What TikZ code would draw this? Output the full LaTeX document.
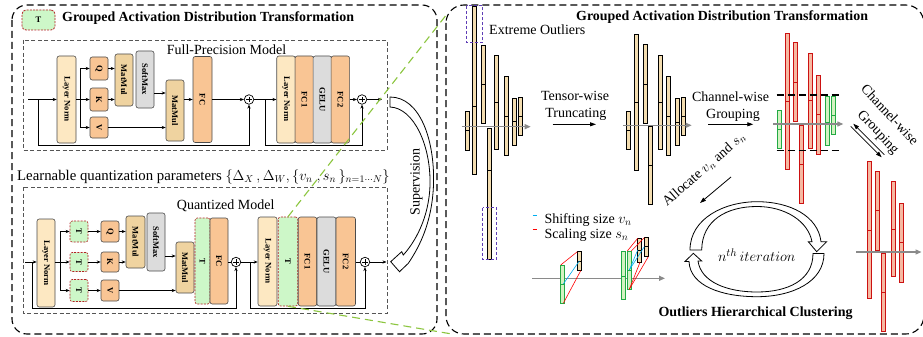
\documentclass[tikz,border=0pt]{standalone}
\usepackage{fontspec}
\setmainfont{Liberation Serif}
\usetikzlibrary{arrows.meta,calc}

\definecolor{lncol}{HTML}{FDE8C2}
\definecolor{fccol}{HTML}{F9C594}
\definecolor{mmcol}{HTML}{EFD3A0}
\definecolor{smcol}{HTML}{DCDCDC}
\definecolor{tgreen}{HTML}{CDF7C8}
\definecolor{tred}{HTML}{B22222}
\definecolor{bartan}{HTML}{F3DDB0}
\definecolor{barred}{HTML}{F6B9A2}
\definecolor{edgered}{HTML}{CC1111}
\definecolor{bargreen}{HTML}{D4F2C2}
\definecolor{edgegreen}{HTML}{22AA44}
\definecolor{zoomgreen}{HTML}{8CC63F}
\definecolor{outlierpurple}{HTML}{5E3DB5}
\definecolor{shiftcyan}{HTML}{00AEEF}
\definecolor{axisgray}{HTML}{8A8A8A}
\definecolor{framegray}{HTML}{555555}

\newcommand{\vtxt}[1]{\rotatebox{-90}{#1}}
\newcommand{\lblfont}{\fontsize{14}{17}\selectfont}
\newcommand{\ttlfont}{\fontsize{13.9}{16}\selectfont\bfseries}
% one activation channel: style, x-left, x-right, y-top, y-bottom, y of the split mark
\newcommand{\databar}[6]{%
  \draw[#1] (#2,#4) rectangle (#3,#5);
  \draw[#1,fill=none] (#2,#6) -- (#3,#6);}

\tikzset{
  blk/.style={draw=black!70, line width=0.6pt, rounded corners=2.2pt, inner sep=0pt,
    font=\fontsize{8.5}{10}\selectfont\bfseries},
  lnb/.style={blk, fill=lncol},
  fcb/.style={blk, fill=fccol},
  mmb/.style={blk, fill=mmcol},
  smb/.style={blk, fill=smcol},
  tb/.style={blk, fill=tgreen, draw=tred, dash pattern=on 2pt off 1.2pt},
  sz/.style 2 args={minimum width=#1pt, minimum height=#2pt},
  plusnode/.style={circle, draw, line width=0.7pt, minimum size=9.5pt, inner sep=0pt, fill=white,
    path picture={\draw[line width=0.6pt]
      ($(path picture bounding box.center)+(-2.6,0)$) -- ($(path picture bounding box.center)+(2.6,0)$)
      ($(path picture bounding box.center)+(0,-2.6)$) -- ($(path picture bounding box.center)+(0,2.6)$);}},
  flow/.style={line width=0.8pt, -{Stealth[length=4pt,width=3.2pt]}},
  wire/.style={line width=0.8pt},
  panel/.style={line width=1.1pt, dash pattern=on 7pt off 4pt},
  modelbox/.style={draw=framegray, line width=0.8pt, dash pattern=on 4pt off 2.5pt},
  zoomline/.style={draw=zoomgreen, line width=1.1pt, dash pattern=on 8pt off 5pt},
  tanbar/.style={fill=bartan, draw=black, line width=0.7pt},
  redbar/.style={fill=barred, draw=edgered, line width=0.7pt},
  grnbar/.style={fill=bargreen, draw=edgegreen, line width=0.7pt},
  axisarr/.style={draw=axisgray, line width=1.2pt, -{Triangle[length=6pt,width=5pt]}},
  procarr/.style={line width=0.8pt, -{Triangle[length=6pt,width=4pt]}},
  outl/.style={draw=outlierpurple, line width=1pt, dash pattern=on 3pt off 2pt},
  thr/.style={line width=1.2pt, dash pattern=on 7pt off 4pt},
  hollow/.style={line width=0.8pt, fill=white},
  lbl/.style={font=\lblfont, inner sep=0pt},
}

\begin{document}
\begin{tikzpicture}[x=1pt,y=-1pt]
\path[fill=white] (0,0) rectangle (923,337);
\useasboundingbox (0,0) rectangle (923,337);

% ---------- two outer panels ----------
\draw[panel, rounded corners=15pt] (12,5) rectangle (437,334);
\draw[panel, rounded corners=18pt] (446,5) rectangle (923.8,334);

% ---------- left panel: legend and title ----------
\node[tb, sz={33}{20}, rounded corners=4pt, line width=0.8pt] (legT) at (38.5,20) {T};
\node[anchor=base west, font=\ttlfont, inner sep=0pt] (ltitle) at (62,21.5) {Grouped Activation Distribution Transformation};

% ---------- full-precision transformer block ----------
\draw[modelbox] (23,40) rectangle (387,150);
\node[lbl, anchor=base west] (fplabel) at (166.7,55) {Full-Precision Model};

\node[lnb, sz={19}{87}] (ln1) at (66.5,99.5) {\vtxt{Layer Norm}};
\node[fcb, sz={18}{23}] (q1) at (99,68.5) {\vtxt{Q}};
\node[fcb, sz={18}{23}] (k1) at (99,99.5) {\vtxt{K}};
\node[fcb, sz={18}{21}] (v1) at (99,127.5) {\vtxt{V}};
\node[mmb, sz={18}{52}] (mm1a) at (124,80) {\vtxt{MatMul}};
\node[smb, sz={18}{57}] (sm1) at (145,79.5) {\vtxt{SoftMax}};
\node[mmb, sz={18}{61}] (mm1b) at (175,110.5) {\vtxt{MatMul}};
\node[fcb, sz={19}{86}] (fc1) at (202.5,99.5) {\vtxt{FC}};
\node[plusnode] (p1a) at (249,99.5) {};
\node[lnb, sz={18.5}{87}] (ln1b) at (286,99.5) {\vtxt{Layer Norm}};
\node[fcb, sz={18.5}{87}] (fc1a) at (304.3,99.5) {\vtxt{FC1}};
\node[smb, sz={18.5}{87}] (gelu1) at (322.3,99.5) {\vtxt{GELU}};
\node[fcb, sz={18.5}{87}] (fc1b) at (340.3,99.5) {\vtxt{FC2}};
\node[plusnode] (p1b) at (362,99.5) {};

\coordinate (in1) at (28,99.5);
\coordinate (rs1) at (38,99.5);
\coordinate (rb1) at (249,145);
\coordinate (br1) at (80,99.5);
\coordinate (smo1) at (154,93);
\coordinate (rs1b) at (265.7,99.5);
\coordinate (rb1b) at (362,145);
\coordinate (out1) at (382,99.5);

\draw[flow] (in1) -- (ln1);
\draw[flow] (rs1) |- (rb1) -- (p1a);
\draw[wire] (ln1) -- (br1);
\draw[wire] (br1 |- q1) -- (br1 |- v1);
\draw[flow] (br1 |- q1) -- (q1);
\draw[flow] (br1) -- (k1);
\draw[flow] (br1 |- v1) -- (v1);
\draw[flow] (q1) -- (q1 -| mm1a.west);
\draw[flow] (k1) -- (k1 -| mm1a.west);
\draw[flow] (smo1) -- (smo1 -| mm1b.west);
\draw[flow] (v1) -- (v1 -| mm1b.west);
\draw[flow] (mm1b.east |- k1) -- (fc1);
\draw[flow] (fc1) -- (p1a);
\draw[flow] (p1a) -- (ln1b);
\draw[flow] (rs1b) |- (rb1b) -- (p1b);
\draw[flow] (fc1b) -- (p1b);
\draw[flow] (p1b) -- (out1);

% ---------- learnable parameters ----------
\node[lbl, anchor=base west, font=\fontsize{14.8}{17}\selectfont] (params) at (17,180)
  {Learnable quantization parameters $\{\Delta_X\,, \Delta_W, \{v_n\;, s_n\,\}_{n=1\cdots N}\}$};

% ---------- quantized transformer block ----------
\draw[modelbox] (23,187) rectangle (387,313);
\node[lbl, anchor=base west] (qlabel) at (176.7,209) {Quantized Model};

\node[lnb, sz={18}{88}] (ln2) at (46,263) {\vtxt{Layer Norm}};
\node[tb, sz={18}{21}] (t1) at (79,231.5) {\vtxt{T}};
\node[tb, sz={18}{19}] (t2) at (79,262) {\vtxt{T}};
\node[tb, sz={18}{22}] (t3) at (79,290.5) {\vtxt{T}};
\node[fcb, sz={18}{21}] (q2) at (110,231.5) {\vtxt{Q}};
\node[fcb, sz={18}{20}] (k2) at (110,262) {\vtxt{K}};
\node[fcb, sz={18}{21}] (v2) at (110,290.5) {\vtxt{V}};
\node[mmb, sz={19}{52}] (mm2a) at (135.5,242) {\vtxt{MatMul}};
\node[smb, sz={18}{58}] (sm2) at (156,242) {\vtxt{SoftMax}};
\node[mmb, sz={18}{51}] (mm2b) at (185,267.5) {\vtxt{MatMul}};
\node[tb, sz={15}{86}] (tb2) at (202.5,261) {\vtxt{T}};
\node[fcb, sz={18}{86}] (fc2) at (219,261) {\vtxt{FC}};
\node[plusnode] (p2a) at (236,262) {};
\node[lnb, sz={19}{89}] (ln2b) at (267.5,261.5) {\vtxt{Layer Norm}};
\node[tb, sz={19.5}{89}] (tc2) at (288,261.5) {\vtxt{T}};
\node[fcb, sz={18.5}{89}] (fc2a) at (307.5,261.5) {\vtxt{FC1}};
\node[smb, sz={19}{89}] (gelu2) at (326.5,261.5) {\vtxt{GELU}};
\node[fcb, sz={19.5}{89}] (fc2b) at (345.75,261.5) {\vtxt{FC2}};
\node[plusnode] (p2b) at (365,262) {};

\coordinate (in2) at (25,262);
\coordinate (rs2) at (32,262);
\coordinate (rb2) at (236,308);
\coordinate (br2) at (60,262);
\coordinate (smo2) at (165,256);
\coordinate (rs2b) at (250.7,262);
\coordinate (rb2b) at (365,308);
\coordinate (out2) at (386.5,262);

\draw[flow] (in2) -- (ln2.west |- in2);
\draw[flow] (rs2) |- (rb2) -- (p2a);
\draw[wire] (ln2.east |- in2) -- (br2);
\draw[wire] (br2 |- t1) -- (br2 |- t3);
\draw[flow] (br2 |- t1) -- (t1);
\draw[flow] (br2) -- (t2);
\draw[flow] (br2 |- t3) -- (t3);
\draw[flow] (t1) -- (q2);
\draw[flow] (t2) -- (k2);
\draw[flow] (t3) -- (v2);
\draw[flow] (q2) -- (q2 -| mm2a.west);
\draw[flow] (k2) -- (k2 -| mm2a.west);
\draw[flow] (smo2) -- (smo2 -| mm2b.west);
\draw[flow] (v2) -- (v2 -| mm2b.west);
\draw[wire] (fc2.east |- p2a) -- (p2a);
\draw[flow] (p2a) -- (ln2b.west |- p2a);
\draw[flow] (rs2b) |- (rb2b) -- (p2b);
\draw[wire] (fc2b.east |- p2b) -- (p2b);
\draw[flow] (p2b) -- (out2);

% ---------- supervision arrow ----------
\draw[hollow] (390,97) .. controls (420,97) and (435,140) .. (433.5,185)
  .. controls (432,222) and (420,246) .. (408.3,263.3)
  -- (399.5,271.7) -- (390.7,261.7) -- (401.7,251.7) -- (403.3,255)
  .. controls (415,242) and (429,218) .. (430,185)
  .. controls (431,146) and (414,108) .. (390,107) -- cycle;
\node[lbl, rotate=90] (sup) at (416.5,181.7) {Supervision};

% ---------- right panel ----------
\node[anchor=base west, font=\ttlfont, inner sep=0pt] (rtitle) at (576,21) {Grouped Activation Distribution Transformation};

% original activation channels
\databar{tanbar}{465}{469}{111.7}{150}{130}
\databar{tanbar}{472}{476}{6.7}{174.3}{106}
\databar{tanbar}{481}{485}{45}{123.3}{84.3}
\databar{tanbar}{487.5}{491.5}{128.3}{259.3}{170.7}
\databar{tanbar}{494.5}{498.5}{55}{149.3}{102.3}
\databar{tanbar}{504}{508}{76.7}{155}{116}
\databar{tanbar}{512}{516}{98.3}{145.7}{121.7}
\databar{tanbar}{518}{522}{97.7}{135}{116.7}
\coordinate (ax1s) at (461.7,126.7);
\coordinate (ax1e) at (530.7,126.7);
\draw[axisarr] (ax1s) -- (ax1e);
\draw[outl] (466.7,6) rectangle (482.7,42.7);
\draw[outl] (482.7,207.7) rectangle (496.7,259.3);
\node[lbl, anchor=base west] (extreme) at (489,34.5) {Extreme Outliers};

% tensor-wise truncating
\node[lbl, anchor=base] (tw1) at (575,100.7) {Tensor-wise};
\node[lbl, anchor=base] (tw2) at (575.8,117.3) {Truncating};
\coordinate (tra) at (552.7,124.3);
\coordinate (trb) at (596,124.3);
\draw[procarr] (tra) -- (trb);

% truncated channels
\databar{tanbar}{626}{630}{111.7}{149.3}{130.7}
\databar{tanbar}{634.5}{638.5}{34.3}{170}{102.7}
\databar{tanbar}{643.5}{647.5}{44.3}{123.3}{84.3}
\databar{tanbar}{648.7}{652.7}{126}{204}{165}
\databar{tanbar}{658}{662}{55}{149.3}{102.3}
\databar{tanbar}{666}{670}{76.7}{155}{116}
\databar{tanbar}{675}{679}{98.3}{145.7}{122.3}
\databar{tanbar}{681}{685}{97.7}{135}{116.7}
\coordinate (ax2s) at (623.3,125.3);
\coordinate (ax2e) at (691.7,125.3);
\draw[axisarr] (ax2s) -- (ax2e);

% channel-wise grouping
\node[lbl, anchor=base] (cw1) at (730.5,101.7) {Channel-wise};
\node[lbl, anchor=base] (cw2) at (733,118.3) {Grouping};
\coordinate (cga) at (708.3,124.3);
\coordinate (cgb) at (753.3,124.3);
\draw[procarr] (cga) -- (cgb);

% grouped channels: inliers and outliers
\databar{grnbar}{777.3}{781.3}{110}{148.3}{129}
\databar{redbar}{785.5}{789.5}{33.3}{169.3}{101}
\databar{redbar}{793.3}{797.3}{42.7}{121.7}{82.7}
\databar{redbar}{799.3}{803.3}{125}{203.3}{164.3}
\databar{redbar}{808.7}{812.7}{53.3}{148.3}{100.7}
\databar{redbar}{816.7}{820.7}{75}{154.3}{114.3}
\databar{grnbar}{825.3}{829.3}{96.7}{145}{122.7}
\databar{grnbar}{831.7}{835.7}{96}{134}{115}
\draw[thr] (776.7,95) -- (840,95);
\draw[thr] (776.7,150.7) -- (840,150.7);
\coordinate (ax3s) at (773.3,124);
\coordinate (ax3e) at (843.3,124);
\draw[axisarr] (ax3s) -- (ax3e);

% recursive grouping of the outliers
\coordinate (rg1a) at (884.3,154.7);
\coordinate (rg1b) at (853.3,123.7);
\coordinate (rg2a) at (850.7,126.3);
\coordinate (rg2b) at (881.7,157.3);
\draw[procarr] (rg1a) -- (rg1b);
\draw[procarr] (rg2a) -- (rg2b);
\node[lbl, rotate=-47] (cw3) at (890,114.5) {Channel-wise};
\node[lbl, rotate=-47] (cw4) at (877.5,132.5) {Grouping};

% outlier channels
\databar{redbar}{867.7}{871.7}{161}{298.3}{230}
\databar{redbar}{875.5}{879.5}{171}{250}{210}
\databar{redbar}{881.7}{885.7}{253.3}{331.7}{292.3}
\databar{redbar}{891}{895}{181.7}{276}{229.3}
\databar{redbar}{899}{903}{203.3}{282.3}{242.7}
\coordinate (ax4s) at (856,252);
\coordinate (ax4e) at (921.5,252);
\draw[axisarr] (ax4s) -- (ax4e);

% allocation of shifting and scaling sizes
\node[lbl, rotate=41] (alloc) at (704,169.5) {Allocate $v_n$ and $s_n$};
\coordinate (ala) at (731,177);
\coordinate (alb) at (700,203);
\draw[procarr] (ala) -- (alb);

% legend
\coordinate (lgc1) at (532.7,215.7);
\coordinate (lgc2) at (537,215.7);
\coordinate (lgr1) at (532.7,229.3);
\coordinate (lgr2) at (537,229.3);
\draw[shiftcyan, line width=1pt] (lgc1) -- (lgc2);
\draw[red, line width=1pt] (lgr1) -- (lgr2);
\node[lbl, anchor=base west] (lgshift) at (544.3,223) {Shifting size $v_n$};
\node[lbl, anchor=base west] (lgscale) at (544.3,238.3) {Scaling size $s_n$};

% shifting / scaling illustration
\coordinate (ax5s) at (532.3,278.3);
\coordinate (ax5e) at (665,278.3);
\draw[axisarr] (ax5s) -- (ax5e);
\databar{grnbar}{560.7}{564.3}{265}{303.3}{284}
\databar{tanbar}{577.3}{581.3}{251.7}{270.7}{261}
\databar{grnbar}{621}{625}{251}{299.3}{276}
\databar{grnbar}{627.3}{631.3}{251}{289.3}{270}
\databar{tanbar}{637.7}{641.7}{238.3}{262.3}{250}
\databar{tanbar}{644.3}{648.3}{237.7}{256.7}{246.7}
\draw[red, line width=0.6pt] (560.7,265) -- (577.3,251.7);
\draw[red, line width=0.6pt] (563.3,303.3) -- (580.7,270.7);
\draw[shiftcyan, line width=0.6pt] (563.3,284) -- (579.3,261);
\draw[red, line width=0.6pt] (627.3,251) -- (637.7,238.3);
\draw[red, line width=0.6pt] (631.3,251) -- (644.3,237.7);
\draw[red, line width=0.6pt] (629.3,289.3) -- (640,262.3);
\draw[red, line width=0.6pt] (629.3,289.3) -- (648.3,256.7);
\draw[shiftcyan, line width=0.6pt] (629.3,270) -- (637.7,250);
\draw[shiftcyan, line width=0.6pt] (629.3,270) -- (644.3,246.7);

% iteration cycle
\draw[hollow] (690,250) .. controls (690,218) and (725,201.7) .. (757,201.7)
  .. controls (790,201.7) and (818,216) .. (821,241.7)
  -- (826.7,241.7) -- (816.7,251.7) -- (808.3,241.7) -- (812,241.7)
  .. controls (808,221) and (785,206.5) .. (757,206.5)
  .. controls (727,206.5) and (702,220) .. (701.7,250) -- cycle;
\draw[hollow] (824,253.5) .. controls (824,282) and (792,296.7) .. (757,296.7)
  .. controls (722,296.7) and (690,286) .. (689,261.5)
  -- (685,261.5) -- (693.3,253.3) -- (701.7,261) -- (698,261)
  .. controls (701,282) and (727,292) .. (757,292)
  .. controls (788,292) and (813,280) .. (813,253.5) -- cycle;
\node[anchor=base, inner sep=0pt, font=\fontsize{15.5}{18}\selectfont] (iter) at (756.7,261.7) {$n^{th}\,iteration$};
\node[anchor=base west, inner sep=0pt, font=\fontsize{14}{17}\selectfont\bfseries] (ohc) at (658.3,316) {Outliers Hierarchical Clustering};

% ---------- zoom lines from the T block to the right panel ----------
\coordinate (zt) at (447,14);
\coordinate (zb) at (452,334);
\draw[zoomline] (tc2.north) -- (zt);
\draw[zoomline] (tc2.south) -- (zb);
\end{tikzpicture}
\end{document}
